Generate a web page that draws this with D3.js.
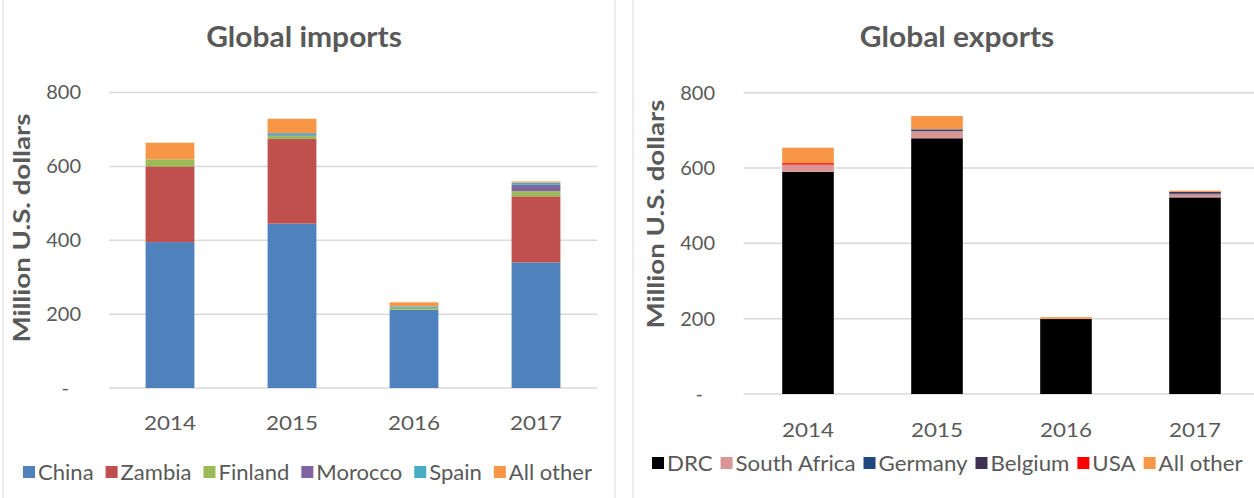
<!DOCTYPE html>
<html><head><meta charset="utf-8">
<script src="https://cdn.jsdelivr.net/npm/d3@7"></script>
<style>
body{margin:0;background:#fff;}
svg{display:block;font-family:Lato,"Open Sans",sans-serif;}
</style></head>
<body><svg id="c" width="1254" height="498"></svg>
<script>
const years = ["2014","2015","2016","2017"];
const yTicks = [0,200,400,600,800];

const importSeries = ["China","Zambia","Finland","Morocco","Spain","All other"];
const importChina   = [395,445,212,340];
const importZambia  = [205,229,0,179];
const importFinland = [19,8,5,14];
const importMorocco = [0,2,0,17];
const importSpain   = [0,6,4,6];
const importOther   = [45,39,11,3];
const importColors  = ["#4F81BD","#C0504D","#9BBB59","#8064A2","#4BACC6","#F79646"];

const exportSeries = ["DRC","South Africa","Germany","Belgium","USA","All other"];
const exportDRC     = [590,679,199,522];
const exportSA      = [19,19,1,8];
const exportGermany = [0,4,0,2];
const exportBelgium = [0,1,0,5];
const exportUSA     = [4,0,0,0];
const exportOther   = [41,35,4,3];
const exportColors  = ["#000000","#D99694","#1F497D","#3F3151","#FF0000","#F79646"];

const svg = d3.select("#c");
const txt = "#595959";

function stretch(sel, f){
  let last = 0;
  sel.each(function(){
    const l = this.getComputedTextLength();
    last = l*f;
    d3.select(this).attr("textLength", last).attr("lengthAdjust","spacingAndGlyphs");
  });
  return last;
}

function panel(cfg){
  const g = svg.append("g");
  g.append("rect").attr("x",cfg.box[0]).attr("y",cfg.box[1]).attr("width",cfg.box[2]).attr("height",cfg.box[3])
    .attr("fill","none").attr("stroke","#d9d9d9").attr("stroke-width",1);
  const x = d3.scaleBand().domain(years).range(cfg.xr).paddingInner(0.6).paddingOuter(0.3);
  const y = d3.scaleLinear().domain([0,800]).range(cfg.yr);
  g.append("g").selectAll("line").data(yTicks).join("line")
    .attr("x1",cfg.xr[0]).attr("x2",cfg.xr[1]).attr("y1",d=>y(d)).attr("y2",d=>y(d))
    .attr("stroke","#d9d9d9").attr("stroke-width",1.5);
  const ya = g.append("g").attr("transform",`translate(${cfg.tickX},0)`)
    .call(d3.axisLeft(y).tickValues(yTicks).tickSize(0).tickPadding(0).tickFormat(d=>d===0?"-":d));
  ya.select(".domain").remove();
  ya.selectAll("text").attr("fill",txt).style("font-size","20px").style("font-family","Lato,sans-serif")
    .attr("dx",d=>d===0?-12:0);
  const xa = g.append("g").attr("transform",`translate(0,${cfg.yr[0]+cfg.xLabOff})`)
    .call(d3.axisBottom(x).tickSize(0).tickPadding(0));
  xa.select(".domain").remove();
  xa.selectAll("text").attr("fill",txt).style("font-size","20px").style("font-family","Lato,sans-serif")
    .attr("dy","0.35em").attr("y",0);
  stretch(xa.selectAll("text"),1.12);
  const rows = years.map((yr,i)=>{const o={year:yr}; cfg.series.forEach((s,j)=>o[s]=cfg.values[j][i]); return o;});
  const stack = d3.stack().keys(cfg.series)(rows);
  const color = d3.scaleOrdinal().domain(cfg.series).range(cfg.colors);
  g.append("g").selectAll("g").data(stack).join("g").attr("fill",d=>color(d.key))
    .selectAll("rect").data(d=>d).join("rect")
    .attr("x",d=>x(d.data.year)).attr("width",x.bandwidth())
    .attr("y",d=>y(d[1])).attr("height",d=>Math.max(0,y(d[0])-y(d[1])));
  const t = g.append("text").attr("x",cfg.titleX).attr("y",47).attr("text-anchor","middle")
    .attr("fill",txt).style("font-size","28px").style("font-weight","bold").text(cfg.title);
  stretch(t,1.07);
  g.append("text").attr("transform",`translate(${cfg.yTitleX},${cfg.yTitleY}) rotate(-90)`)
    .attr("text-anchor","middle").attr("fill",txt).style("font-size","23px").style("font-weight","bold")
    .attr("textLength",229).attr("lengthAdjust","spacingAndGlyphs")
    .text("Million U.S. dollars");
  const lg = g.append("g").attr("transform",`translate(${cfg.legX},${cfg.legY})`);
  let cx = 0;
  cfg.series.forEach((s,i)=>{
    const it = lg.append("g").attr("transform",`translate(${cx},0)`);
    it.append("rect").attr("x",0).attr("y",-6).attr("width",12).attr("height",12).attr("fill",cfg.colors[i]);
    const tt = it.append("text").attr("x",15).attr("y",7.5).attr("fill",txt)
      .style("font-size","21px").text(s);
    const w = stretch(tt,cfg.legStretch);
    cx += 15 + w + cfg.legGap;
  });
}

panel({title:"Global imports",titleX:304,xr:[109,597],yr:[388,92.5],tickX:81,xLabOff:35,
  yTitleX:30,yTitleY:228,box:[3,-2,612,502],
  series:importSeries,values:[importChina,importZambia,importFinland,importMorocco,importSpain,importOther],
  colors:importColors,legX:23,legY:472,legGap:12,legStretch:1.05});
panel({title:"Global exports",titleX:957,xr:[743.5,1259.5],yr:[394,92.7],tickX:715,xLabOff:36,
  yTitleX:664,yTitleY:214,box:[633,-2,622,502],
  series:exportSeries,values:[exportDRC,exportSA,exportGermany,exportBelgium,exportUSA,exportOther],
  colors:exportColors,legX:652,legY:463,legGap:8,legStretch:1.06});
</script></body></html>
